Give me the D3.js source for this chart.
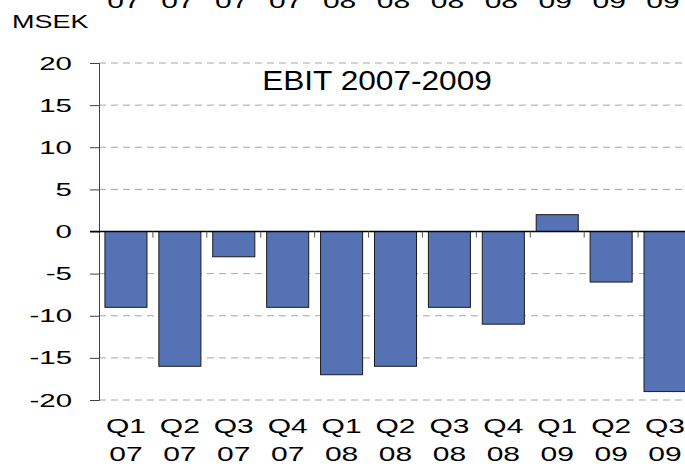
<!DOCTYPE html>
<html>
<head>
<meta charset="utf-8">
<script src="https://cdn.jsdelivr.net/npm/d3@7"></script>
<style>
  body { margin: 0; background: #fff; }
  text { font-family: "Liberation Sans", Arial, sans-serif; fill: #000; }
</style>
</head>
<body>
<script>
// data
const quarters = ["Q1","Q2","Q3","Q4","Q1","Q2","Q3","Q4","Q1","Q2","Q3"]
const years = ["07","07","07","07","08","08","08","08","09","09","09"]
const ebit = [-9, -16, -3, -9, -17, -16, -9, -11, 2, -6, -19]
const yTicks = [-20, -15, -10, -5, 0, 5, 10, 15, 20]

const width = 685
const height = 470
const plot = ({left: 99, right: 692, top: 63, bottom: 400})
// the original chart was stretched sideways, text included
const sx = 1.5

const svg = d3.select("body").append("svg")
  .attr("width", width)
  .attr("height", height)

const y = d3.scaleLinear()
  .domain([-20, 20])
  .range([plot.bottom, plot.top])

const x = d3.scaleBand()
  .domain(d3.range(ebit.length))
  .range([plot.left, plot.right])
  .paddingInner(0.22)
  .paddingOuter(0.11)

const cx = i => x(i) + x.bandwidth() / 2

// dashed gridlines
svg.append("g")
  .selectAll("line")
  .data(yTicks.filter(d => d !== 0))
  .join("line")
  .attr("x1", plot.left)
  .attr("x2", width)
  .attr("y1", d => y(d))
  .attr("y2", d => y(d))
  .style("stroke", "#a6a6a6")
  .style("stroke-width", 1)
  .style("stroke-dasharray", "7,5")

// bars
svg.append("g")
  .selectAll("rect")
  .data(ebit)
  .join("rect")
  .attr("x", (d, i) => x(i))
  .attr("y", d => y(Math.max(0, d)))
  .attr("width", x.bandwidth())
  .attr("height", d => Math.abs(y(d) - y(0)))
  .attr("fill", "#5573b4")
  .attr("stroke", "#1a1a1a")
  .attr("stroke-width", 1)

// y axis
const yAxis = svg.append("g")
  .attr("transform", `translate(${plot.left},0)`)
  .call(d3.axisLeft(y).tickValues(yTicks).tickSize(9).tickFormat(d => String(d)))
yAxis.select(".domain").attr("stroke", "#404040")
yAxis.selectAll(".tick line").attr("stroke", "#404040")
yAxis.selectAll("text")
  .attr("x", -27 / 1.55)
  .attr("transform", "scale(1.55,1)")
  .attr("fill", "#000")
  .style("font-size", "19px")

// zero line and category separators
svg.append("line")
  .attr("x1", plot.left - 9)
  .attr("x2", width)
  .attr("y1", y(0))
  .attr("y2", y(0))
  .style("stroke", "#000")
  .style("stroke-width", 1.5)

svg.append("g")
  .selectAll("line")
  .data(d3.range(1, ebit.length))
  .join("line")
  .attr("x1", i => plot.left + i * x.step())
  .attr("x2", i => plot.left + i * x.step())
  .attr("y1", y(0))
  .attr("y2", y(0) + 6)
  .style("stroke", "#555")
  .style("stroke-width", 1)

// category labels (two lines)
const cat = svg.append("g")
  .selectAll("text")
  .data(ebit)
  .join("text")
  .attr("transform", (d, i) => `translate(${cx(i)},0) scale(${sx},1)`)
  .attr("text-anchor", "middle")
  .style("font-size", "20px")
cat.append("tspan")
  .attr("x", 0)
  .attr("y", 433)
  .text((d, i) => quarters[i])
cat.append("tspan")
  .attr("x", 0)
  .attr("y", 461)
  .text((d, i) => years[i])

// cut-off year labels at the very top
svg.append("g")
  .selectAll("text")
  .data(years)
  .join("text")
  .attr("transform", (d, i) => `translate(${cx(i) - 2},8) scale(${sx},1)`)
  .attr("text-anchor", "middle")
  .style("font-size", "20px")
  .text(d => d)

svg.append("text")
  .attr("transform", "translate(12,28) scale(1.42,1)")
  .style("font-size", "19px")
  .text("MSEK")

svg.append("text")
  .attr("transform", "translate(377,90) scale(1.13,1)")
  .attr("text-anchor", "middle")
  .style("font-size", "28px")
  .text("EBIT 2007-2009")
</script>
</body>
</html>
